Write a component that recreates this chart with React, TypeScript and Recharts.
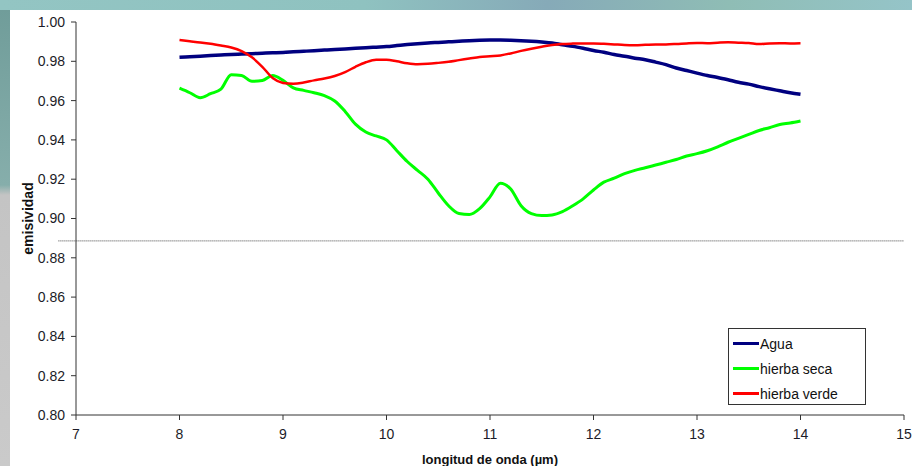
import React from 'react';
import { LineChart, Line, XAxis, YAxis, ReferenceLine } from 'recharts';

const wavelength = [
  8.0, 8.1, 8.2, 8.3, 8.4, 8.5, 8.6, 8.7, 8.8, 8.9,
  9.0, 9.1, 9.2, 9.3, 9.4, 9.5, 9.6, 9.7, 9.8, 9.9,
  10.0, 10.1, 10.2, 10.3, 10.4, 10.5, 10.6, 10.7, 10.8, 10.9,
  11.0, 11.1, 11.2, 11.3, 11.4, 11.5, 11.6, 11.7, 11.8, 11.9,
  12.0, 12.1, 12.2, 12.3, 12.4, 12.5, 12.6, 12.7, 12.8, 12.9,
  13.0, 13.1, 13.2, 13.3, 13.4, 13.5, 13.6, 13.7, 13.8, 13.9,
  14.0,
];

const agua = [
  0.982, 0.9823, 0.9826, 0.9829, 0.9832, 0.9835, 0.9837, 0.9839, 0.9841, 0.9843,
  0.9845, 0.9848, 0.9851, 0.9854, 0.9857, 0.986, 0.9863, 0.9866, 0.9869, 0.9872,
  0.9875, 0.988, 0.9885, 0.9889, 0.9893, 0.9896, 0.9899, 0.9902, 0.9905, 0.9907,
  0.9908, 0.9908, 0.9907, 0.9905, 0.9902, 0.9898, 0.9893, 0.9884, 0.9876, 0.9866,
  0.9855, 0.9846, 0.9835, 0.9826, 0.9816, 0.9808, 0.9796, 0.9783, 0.9766, 0.9753,
  0.974, 0.9728, 0.9718, 0.9706, 0.9693, 0.9684, 0.9671, 0.966, 0.965, 0.964,
  0.9632,
];

const hierbaSeca = [
  0.9663, 0.964, 0.9615, 0.9635, 0.9658, 0.9732, 0.9728, 0.9698, 0.9702, 0.9728,
  0.9703, 0.9665, 0.9652, 0.964, 0.9625, 0.9598, 0.9545, 0.948, 0.944, 0.942,
  0.94, 0.9345, 0.929, 0.9245, 0.92, 0.913, 0.9065, 0.9025, 0.902, 0.905,
  0.911, 0.9180, 0.915, 0.9065, 0.9025, 0.9015, 0.9018, 0.9035, 0.9065, 0.91,
  0.9145, 0.9185, 0.9205, 0.9228, 0.9245, 0.9258, 0.9272, 0.9286, 0.93, 0.9318,
  0.933, 0.9345, 0.9365, 0.9388, 0.9408, 0.9428, 0.9448, 0.9462, 0.9478, 0.9486,
  0.9496,
];

const hierbaVerde = [
  0.9908, 0.9902, 0.9896, 0.9889, 0.988, 0.987, 0.9852, 0.982, 0.9772, 0.9715,
  0.969, 0.9686, 0.9692, 0.9703, 0.9712, 0.9725, 0.9745, 0.9772, 0.9795, 0.9808,
  0.9808, 0.98, 0.979, 0.9785, 0.9787, 0.9792, 0.9798, 0.9806, 0.9814, 0.9822,
  0.9826, 0.983, 0.984, 0.9853, 0.9864, 0.9874, 0.9883, 0.9888, 0.989, 0.9891,
  0.9891, 0.9889, 0.9886, 0.9883, 0.9882, 0.9884, 0.9886, 0.9886, 0.9888, 0.9891,
  0.9893, 0.9892, 0.9895, 0.9897, 0.9895, 0.9893, 0.9888, 0.9891, 0.9892, 0.9891,
  0.9892,
];

const seriesNames = ['Agua', 'hierba seca', 'hierba verde'];
const seriesColors = ['#000080', '#00ff00', '#ff0000'];
const xTicks = [7, 8, 9, 10, 11, 12, 13, 14, 15];
const yTicks = [0.8, 0.82, 0.84, 0.86, 0.88, 0.9, 0.92, 0.94, 0.96, 0.98, 1.0];
const dottedLevel = 0.8886;

const data = wavelength.map((w, i) => ({
  w,
  agua: agua[i],
  seca: hierbaSeca[i],
  verde: hierbaVerde[i],
}));

const font = '"Liberation Sans", Arial, sans-serif';
const tickStyle = { fill: '#1c1c28', fontSize: 14, fontFamily: font };

// legend drawn as an overlay so it doesn't eat plot space
const LegendBox = () => (
  <div
    style={{
      position: 'absolute',
      left: 718,
      top: 318,
      width: 138,
      height: 77,
      border: '1px solid #333',
      background: '#fff',
      fontFamily: font,
      fontSize: 14,
      color: '#111',
      boxSizing: 'border-box',
      padding: '2px 0 0 4px',
    }}
  >
    {seriesNames.map((name, i) => (
      <div key={name} style={{ display: 'flex', alignItems: 'center', height: 25 }}>
        <span
          style={{
            display: 'inline-block',
            width: 26,
            height: 3,
            background: seriesColors[i],
            marginRight: 1,
          }}
        />
        <span>{name}</span>
      </div>
    ))}
  </div>
);

export default function App() {
  return (
    <div
      style={{
        position: 'absolute',
        left: 0,
        top: 0,
        width: 912,
        height: 466,
        overflow: 'hidden',
        background:
          'linear-gradient(180deg, #6f9c99 0px, #86aeab 185px, #c4c4c4 195px, #cacaca 466px)',
      }}
    >
      <div
        style={{
          position: 'absolute',
          left: 0,
          top: 0,
          width: 912,
          height: 10,
          background:
            'linear-gradient(90deg, #93c5c3 0%, #8fc2c0 40%, #86aab8 60%, #8fbdb5 80%, #95c4c8 100%)',
        }}
      />
      <div
        style={{
          position: 'absolute',
          left: 10,
          top: 10,
          width: 902,
          height: 456,
          background: '#fff',
        }}
      >
        <LineChart
          width={902}
          height={456}
          data={data}
          margin={{ top: 12, right: 8, bottom: 0, left: 0 }}
        >
          <XAxis
            dataKey="w"
            type="number"
            domain={[7, 15]}
            ticks={xTicks}
            allowDataOverflow
            height={51}
            stroke="#333"
            tickSize={5}
            tickMargin={9}
            tick={tickStyle}
            tickFormatter={(v: number) => String(v)}
            label={{
              value: 'longitud de onda (µm)',
              position: 'center',
              dy: 19,
              style: { fontFamily: font, fontSize: 13, fontWeight: 700, fill: '#111' },
            }}
          />
          <YAxis
            type="number"
            domain={[0.8, 1.0]}
            ticks={yTicks}
            allowDataOverflow
            width={66}
            stroke="#333"
            tickSize={5}
            tickMargin={6}
            tick={tickStyle}
            tickFormatter={(v: number) => v.toFixed(2)}
            label={{
              value: 'emisividad',
              angle: -90,
              position: 'center',
              dx: -15,
              style: { fontFamily: font, fontSize: 14, fontWeight: 700, fill: '#111' },
            }}
          />
          <ReferenceLine
            segment={[
              { x: 6.83, y: dottedLevel },
              { x: 15, y: dottedLevel },
            ]}
            ifOverflow="visible"
            stroke="#444"
            strokeWidth={1}
            strokeDasharray="1 1"
          />
          <Line
            dataKey="agua"
            name={seriesNames[0]}
            type="monotone"
            stroke={seriesColors[0]}
            strokeWidth={3.5}
            dot={false}
            isAnimationActive={false}
          />
          <Line
            dataKey="seca"
            name={seriesNames[1]}
            type="monotone"
            stroke={seriesColors[1]}
            strokeWidth={3}
            dot={false}
            isAnimationActive={false}
          />
          <Line
            dataKey="verde"
            name={seriesNames[2]}
            type="monotone"
            stroke={seriesColors[2]}
            strokeWidth={2.5}
            dot={false}
            isAnimationActive={false}
          />
        </LineChart>
        <LegendBox />
      </div>
    </div>
  );
}
